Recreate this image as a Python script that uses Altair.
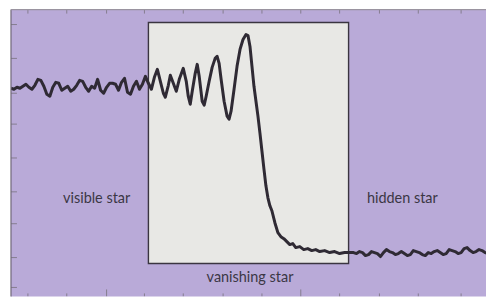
import altair as alt
import pandas as pd

W, H = 477, 288

# light curve: time (arbitrary units) vs. brightness (arbitrary units)
left_time = [0, 3, 6, 9, 12, 15, 18, 21, 24, 27, 30, 33, 36, 39, 42, 45, 48, 51, 54, 57,
             60, 63, 66, 69, 72, 75, 78, 81, 84, 87, 90, 93, 96, 99, 102, 105, 108, 111, 114, 117,
             120, 123, 126, 129, 132, 135]
left_flux = [217, 216, 218, 217, 219, 221, 218, 216, 220, 226,
             225, 219, 211, 209, 218, 223, 222, 215, 217, 219,
             214, 216, 220, 225, 224, 218, 214, 219, 217, 226,
             215, 212, 218, 222, 222, 221, 215, 223, 227, 213,
             211, 219, 224, 216, 221, 229]

mid_time = [138, 141, 144, 147, 150, 153, 155, 158, 160, 163, 166, 169, 173, 176, 178, 180,
            182, 185, 187, 189, 192, 194, 196, 199, 202, 205, 207, 209, 211, 214, 217, 219,
            221, 224, 227, 230, 233, 236, 238, 240, 242, 244, 246, 248, 250, 252, 254, 256,
            258, 260, 262, 265, 268, 271, 274, 277, 280, 283, 286, 290, 294, 298, 302, 306,
            310, 315, 320, 325, 330, 335, 339]
mid_flux = [222, 216, 228, 236, 224, 212, 208, 220, 230, 222, 214, 226, 237, 224, 209, 201,
            214, 232, 241, 229, 204, 200, 209, 224, 238, 247, 249, 242, 226, 204, 189, 186,
            194, 216, 239, 256, 266, 271, 270, 259, 239, 219, 204, 189, 172, 154, 136, 119,
            107, 99, 94, 82, 72, 68, 66, 63, 60, 61, 57, 58, 55, 56, 54, 55,
            53, 54, 52, 53, 51, 52, 52]

right_time = [344, 347, 350, 353, 356, 359, 362, 365, 368, 371, 374, 377, 380, 383, 386, 389,
              392, 395, 398, 401, 404, 407, 410, 413, 416, 419, 422, 425, 428, 431, 434, 437,
              440, 443, 446, 449, 452, 455, 458, 461, 464, 467, 470, 473, 476, 479, 482, 485]
right_flux = [52, 51, 53, 52, 49, 50, 53, 52, 51, 48,
              52, 55, 53, 52, 50, 51, 53, 51, 49, 50,
              54, 53, 52, 50, 49, 52, 51, 53, 54, 52,
              50, 51, 55, 54, 53, 51, 52, 56, 57, 54,
              52, 53, 55, 54, 52, 51, 50, 52]

x_ticks = [17, 56, 96, 134, 173, 213, 252, 291, 330, 370, 409, 452]
x_major = [96, 291]
y_ticks = [281, 247, 212, 181, 147, 113, 81, 47, 17]

window_start, window_end = 138, 339
window_low, window_high = 41, 283

labels = ["visible star", "hidden star", "vanishing star"]
label_time = [86, 393, 240]
label_flux = [106, 106, 26]

PURPLE = "#b9aad8"
INK = "#2f2a34"
EDGE = "#857d8f"

times = left_time + mid_time + right_time
fluxes = left_flux + mid_flux + right_flux
curve = pd.DataFrame({"time": times, "flux": fluxes, "order": list(range(len(times)))})

xs = alt.Scale(domain=[0, 477], nice=False, zero=False)
ys = alt.Scale(domain=[8, 296], nice=False, zero=False)

window = alt.Chart(pd.DataFrame({"t0": [window_start], "t1": [window_end],
                                 "f0": [window_low], "f1": [window_high]})).mark_rect(
    fill="#e8e8e5", stroke="#3a3540", strokeWidth=1.4
).encode(
    x=alt.X("t0:Q", scale=xs, axis=None), x2="t1:Q",
    y=alt.Y("f0:Q", scale=ys, axis=None), y2="f1:Q",
)

line = alt.Chart(curve).mark_line(color=INK, strokeWidth=3, strokeJoin="round", clip=True).encode(
    x=alt.X("time:Q", scale=xs, axis=None),
    y=alt.Y("flux:Q", scale=ys, axis=None),
    order="order:Q",
)

xt = pd.DataFrame({"t": x_ticks, "major": [t in x_major for t in x_ticks]})
yt = pd.DataFrame({"f": y_ticks})

left_ticks = alt.Chart(yt).mark_rule(color=EDGE, strokeWidth=1).encode(
    y=alt.Y("f:Q", scale=ys, axis=None), x=alt.value(0), x2=alt.value(6)
)
top_ticks = alt.Chart(xt).mark_rule(color=EDGE, strokeWidth=1).encode(
    x=alt.X("t:Q", scale=xs, axis=None), y=alt.value(0), y2=alt.value(4)
)
bottom_ticks = alt.Chart(xt[~xt["major"]]).mark_rule(color=EDGE, strokeWidth=1, clip=True).encode(
    x=alt.X("t:Q", scale=xs, axis=None), y=alt.value(H - 3), y2=alt.value(H)
)
bottom_major = alt.Chart(xt[xt["major"]]).mark_rule(color=EDGE, strokeWidth=1, clip=True).encode(
    x=alt.X("t:Q", scale=xs, axis=None), y=alt.value(H - 7), y2=alt.value(H)
)
left_edge = alt.Chart(yt.head(1)).mark_rule(color="#6f6878", strokeWidth=1.2).encode(
    x=alt.value(0), y=alt.value(0), y2=alt.value(H)
)
top_edge = alt.Chart(yt.head(1)).mark_rule(color="#9a94a0", strokeWidth=1.2).encode(
    y=alt.value(0), x=alt.value(0), x2=alt.value(W)
)

text = alt.Chart(pd.DataFrame({"label": labels, "time": label_time, "flux": label_flux})).mark_text(
    font="Lato", fontSize=14.5, color="#3b3745", align="center", baseline="middle"
).encode(
    x=alt.X("time:Q", scale=xs, axis=None),
    y=alt.Y("flux:Q", scale=ys, axis=None),
    text="label:N",
)

chart = alt.layer(
    window, line, left_ticks, top_ticks, bottom_ticks, bottom_major, left_edge, top_edge, text
).properties(
    width=W, height=H, background="white",
    padding={"left": 2, "top": 0, "right": 0, "bottom": 0}
).configure_view(
    fill=PURPLE, strokeWidth=0
)

chart.save("out.html", embed_options={"renderer": "svg", "actions": False})
